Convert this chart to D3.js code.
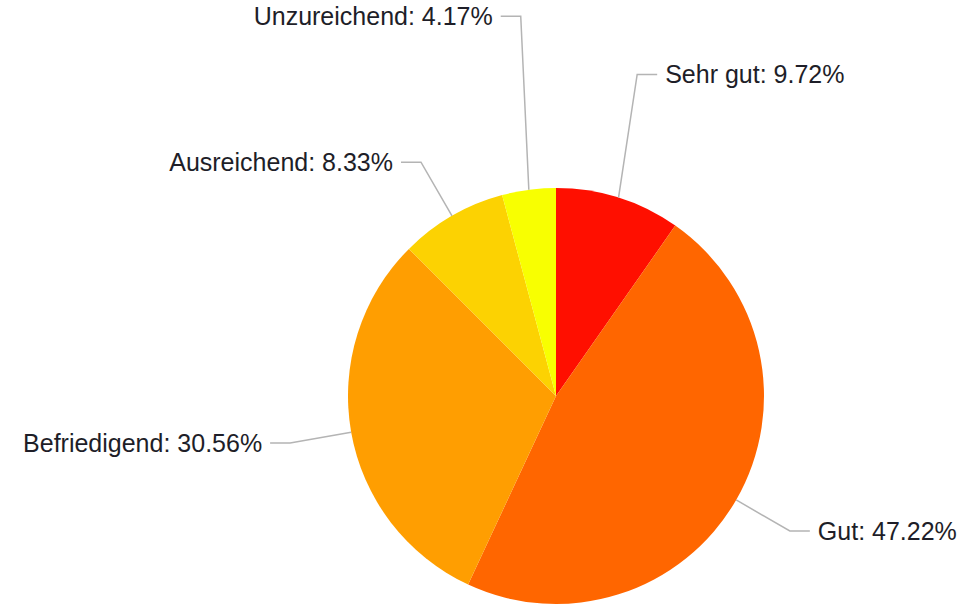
<!DOCTYPE html>
<html lang="de">
<head>
<meta charset="utf-8">
<title>Noten</title>
<script src="https://cdn.jsdelivr.net/npm/d3@7"></script>
<style>
  body { margin: 0; background: #fff; }
  .label { font-family: "Liberation Sans", Arial, sans-serif; font-size: 25px; fill: #1e1e28; }
  .leader { fill: none; stroke: #b4b4b4; stroke-width: 1.5; }
</style>
</head>
<body>
<script>
var categories = ["Sehr gut", "Gut", "Befriedigend", "Ausreichend", "Unzureichend"];
var values = [9.72, 47.22, 30.56, 8.33, 4.17];
var colors = ["#FF0F00", "#FF6600", "#FF9E01", "#FCD202", "#F8FF01"];

// extra vertical lift of the two crowded top labels
var labelLift = [-64, 0, 0, 0, -112];

var w = 971, h = 607;
var cx = 556, cy = 396, r = 208;
var labelR = 270, stub = 20, gap = 8;

var data = categories.map(function(c, i) { return {name: c, value: values[i], color: colors[i], lift: labelLift[i]}; });

var svg = d3.select("body").append("svg")
  .attr("width", w)
  .attr("height", h);

var g = svg.append("g").attr("transform", "translate(" + cx + "," + cy + ")");

var pie = d3.pie().sort(null).value(function(d) { return d.value; });
var arcs = pie(data);

var arc = d3.arc().innerRadius(0).outerRadius(r);
var edgeArc = d3.arc().innerRadius(r).outerRadius(r);
var outArc = d3.arc().innerRadius(labelR).outerRadius(labelR);

g.selectAll("path.slice")
  .data(arcs)
  .enter()
  .append("path")
  .attr("class", "slice")
  .attr("d", arc)
  .attr("fill", function(d) { return d.data.color; });

function side(d) {
  var mid = (d.startAngle + d.endAngle) / 2;
  return mid < Math.PI ? 1 : -1;
}

g.selectAll("polyline")
  .data(arcs)
  .enter()
  .append("polyline")
  .attr("class", "leader")
  .attr("points", function(d) {
    var a = edgeArc.centroid(d);
    var b = outArc.centroid(d);
    b[1] += d.data.lift;
    var c = [b[0] + side(d) * stub, b[1]];
    return [a, b, c].map(function(p) { return p.join(","); }).join(" ");
  });

g.selectAll("text.label")
  .data(arcs)
  .enter()
  .append("text")
  .attr("class", "label")
  .attr("x", function(d) { return outArc.centroid(d)[0] + side(d) * (stub + gap); })
  .attr("y", function(d) { return outArc.centroid(d)[1] + d.data.lift; })
  .attr("dy", "0.35em")
  .attr("text-anchor", function(d) { return side(d) > 0 ? "start" : "end"; })
  .text(function(d) { return d.data.name + ": " + d.data.value.toFixed(2) + "%"; });
</script>
</body>
</html>
